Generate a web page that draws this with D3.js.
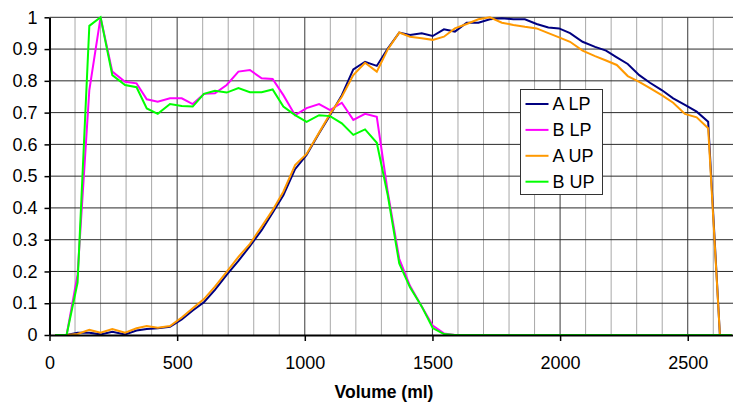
<!DOCTYPE html>
<html>
<head>
<meta charset="utf-8">
<script src="https://cdn.jsdelivr.net/npm/d3@7/dist/d3.min.js"></script>
<style>
  body { margin: 0; background: #fff; }
  svg { display: block; }
  text { font-family: "Liberation Sans", Arial, sans-serif; fill: #000; }
</style>
</head>
<body>
<svg id="chart" width="733" height="403"></svg>
<script>
// Elution volume of each collected fraction (ml)
const volumes = [22, 67, 110, 156, 200, 246, 296, 341, 381, 424,
  472, 518, 561, 605, 648, 694, 740, 785, 831, 874,
  916, 962, 1007, 1056, 1099, 1145, 1190, 1236, 1282, 1325,
  1370, 1412, 1458, 1501, 1545, 1588, 1634, 1680, 1725, 1772,
  1817, 1862, 1908, 1954, 1996, 2039, 2088, 2137, 2180, 2222,
  2265, 2310, 2352, 2398, 2443, 2489, 2535, 2580, 2626, 2672];

// Normalised signal per fraction
const aLP = [0, 0, 0.007, 0.007, 0.002, 0.010, 0.002, 0.014, 0.019, 0.021,
  0.026, 0.049, 0.077, 0.103, 0.142, 0.189, 0.233, 0.280, 0.330, 0.385,
  0.440, 0.522, 0.567, 0.635, 0.692, 0.755, 0.836, 0.860, 0.847, 0.902,
  0.952, 0.944, 0.950, 0.941, 0.962, 0.955, 0.983, 0.983, 0.994, 0.997,
  0.994, 0.994, 0.979, 0.968, 0.965, 0.950, 0.923, 0.907, 0.895, 0.874,
  0.853, 0.818, 0.794, 0.771, 0.745, 0.724, 0.703, 0.671, 0, 0];

const bLP = [0, 0, 0.19, 0.771, 1.0, 0.829, 0.797, 0.792, 0.742, 0.734,
  0.745, 0.745, 0.727, 0.759, 0.761, 0.787, 0.829, 0.834, 0.808, 0.806,
  0.755, 0.692, 0.714, 0.727, 0.708, 0.731, 0.677, 0.696, 0.687, 0.45,
  0.24, 0.155, 0.09, 0.03, 0.005, 0, 0, 0, 0, 0,
  0, 0, 0, 0, 0, 0, 0, 0, 0, 0,
  0, 0, 0, 0, 0, 0, 0, 0, 0, 0];

const aUP = [0, 0, 0.003, 0.016, 0.007, 0.019, 0.007, 0.021, 0.028, 0.023,
  0.028, 0.055, 0.084, 0.113, 0.152, 0.199, 0.246, 0.287, 0.341, 0.393,
  0.451, 0.535, 0.570, 0.637, 0.696, 0.750, 0.818, 0.857, 0.829, 0.899,
  0.952, 0.939, 0.934, 0.929, 0.939, 0.965, 0.979, 0.994, 1.0, 0.983,
  0.976, 0.970, 0.965, 0.950, 0.937, 0.923, 0.895, 0.878, 0.864, 0.850,
  0.815, 0.797, 0.777, 0.755, 0.731, 0.696, 0.685, 0.651, 0, 0];

const bUP = [0, 0, 0.165, 0.973, 1.0, 0.818, 0.787, 0.780, 0.713, 0.696,
  0.727, 0.721, 0.719, 0.759, 0.769, 0.763, 0.777, 0.764, 0.764, 0.773,
  0.719, 0.692, 0.671, 0.692, 0.689, 0.666, 0.630, 0.647, 0.605, 0.44,
  0.225, 0.15, 0.09, 0.022, 0.003, 0, 0, 0, 0, 0,
  0, 0, 0, 0, 0, 0, 0, 0, 0, 0,
  0, 0, 0, 0, 0, 0, 0, 0, 0, 0];

const seriesNames = ["A LP", "B LP", "A UP", "B UP"];
const seriesValues = [aLP, bLP, aUP, bUP];
const seriesColors = ["#000080", "#ff00ff", "#ff9900", "#00ff00"];

const xTickValues = [0, 500, 1000, 1500, 2000, 2500];
const yTickValues = [0, 0.1, 0.2, 0.3, 0.4, 0.5, 0.6, 0.7, 0.8, 0.9, 1];
const yTickLabels = ["0", "0.1", "0.2", "0.3", "0.4", "0.5", "0.6", "0.7", "0.8", "0.9", "1"];
const xTitle = "Volume (ml)";

const svg = d3.select("#chart");
const W = 733, H = 403;
const plot = { left: 49.5, right: 738.8, top: 17.3, bottom: 335 };

const x = d3.scaleLinear().domain([0, 2700]).range([plot.left, plot.right]);
const y = d3.scaleLinear().domain([0, 1]).range([plot.bottom, plot.top]);

// Gridlines: light every 100 ml, darker every 500 ml, horizontals every 0.1
const grid = svg.append("g");
grid.selectAll("line.minor")
  .data(d3.range(100, 2700, 100).filter(v => v % 500 !== 0))
  .join("line")
  .attr("x1", d => x(d)).attr("x2", d => x(d))
  .attr("y1", plot.top).attr("y2", plot.bottom)
  .attr("stroke", "#a8a8a8").attr("stroke-width", 1);
grid.selectAll("line.major")
  .data(xTickValues.filter(v => v > 0))
  .join("line")
  .attr("x1", d => x(d)).attr("x2", d => x(d))
  .attr("y1", plot.top).attr("y2", plot.bottom)
  .attr("stroke", "#3a3a3a").attr("stroke-width", 1);
grid.selectAll("line.h")
  .data(yTickValues.filter(v => v > 0))
  .join("line")
  .attr("x1", plot.left).attr("x2", W)
  .attr("y1", d => y(d)).attr("y2", d => y(d))
  .attr("stroke", "#2a2a2a").attr("stroke-width", 1);

// Series lines
const line = d3.line()
  .x((d, i) => x(volumes[i]))
  .y(d => y(d));

svg.append("g")
  .selectAll("path")
  .data(seriesValues)
  .join("path")
  .attr("d", d => line(d))
  .attr("fill", "none")
  .attr("stroke", (d, i) => seriesColors[i])
  .attr("stroke-width", 2)
  .attr("stroke-linejoin", "miter");

// Axes
const xAxis = d3.axisBottom(x)
  .tickValues(xTickValues)
  .tickSize(6)
  .tickSizeOuter(0)
  .tickPadding(15)
  .tickFormat(d3.format("d"));
const gx = svg.append("g")
  .attr("transform", `translate(0,${plot.bottom})`)
  .call(xAxis);
gx.select(".domain").attr("stroke", "#000").attr("stroke-width", 2);
gx.selectAll(".tick line").attr("stroke", "#000").attr("stroke-width", 1.5);
gx.selectAll(".tick text")
  .attr("font-size", 18)
  .attr("font-family", "Liberation Sans, Arial, sans-serif")
  .attr("fill", "#000");

const yAxis = d3.axisLeft(y)
  .tickValues(yTickValues)
  .tickSize(5)
  .tickSizeOuter(0)
  .tickPadding(7)
  .tickFormat((d, i) => yTickLabels[i]);
const gy = svg.append("g")
  .attr("transform", `translate(${plot.left},0)`)
  .call(yAxis);
gy.select(".domain").attr("stroke", "#000").attr("stroke-width", 2);
gy.selectAll(".tick line").attr("stroke", "#000").attr("stroke-width", 1.5);
gy.selectAll(".tick text")
  .attr("font-size", 18)
  .attr("font-family", "Liberation Sans, Arial, sans-serif")
  .attr("fill", "#000");

// Axis title
svg.append("text")
  .attr("x", 384)
  .attr("y", 398)
  .attr("text-anchor", "middle")
  .attr("font-size", 17.5)
  .attr("font-weight", "bold")
  .text(xTitle);

// Legend
const legend = svg.append("g").attr("transform", "translate(520.5,89.5)");
legend.append("rect")
  .attr("width", 82).attr("height", 105)
  .attr("fill", "#fff").attr("stroke", "#333").attr("stroke-width", 1);
const items = legend.selectAll("g.item")
  .data(seriesNames)
  .join("g")
  .attr("transform", (d, i) => `translate(0,${14.5 + i * 25.9})`);
items.append("line")
  .attr("x1", 5).attr("x2", 28)
  .attr("stroke", (d, i) => seriesColors[i])
  .attr("stroke-width", 2);
items.append("text")
  .attr("x", 32)
  .attr("dy", "0.35em")
  .attr("font-size", 18)
  .text(d => d);
</script>
</body>
</html>
